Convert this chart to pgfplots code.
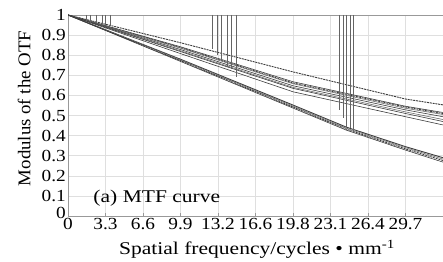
\documentclass[border=0pt]{standalone}
\usepackage{fontspec}
\setmainfont{Liberation Serif}[FakeStretch=1.2]
\newfontfamily\tickfont{Liberation Serif}[FakeStretch=1.14]
\newfontfamily\ylabfont{Liberation Serif}[FakeStretch=1.05]
\usepackage{pgfplots}
\pgfplotsset{compat=1.18}
\definecolor{crv}{RGB}{60,60,60}
\definecolor{crl}{RGB}{110,110,110}
\definecolor{vln}{RGB}{100,100,100}
\begin{document}
\fontsize{18}{21}\selectfont
\begin{tikzpicture}
\useasboundingbox (-68bp,-46bp) rectangle (375bp,216bp);
\begin{axis}[
  at={(0,0)}, anchor=south west,
  scale only axis, width=375bp, height=201bp,
  xmin=0, xmax=33, ymin=0, ymax=1,
  axis x line=box, axis y line=left,
  axis line style={-, draw=gray!80, line width=0.8bp},
  xtick={0,3.3,6.6,9.9,13.2,16.5,19.8,23.1,26.4,29.7},
  xticklabels={0,3.3,6.6,9.9,13.2,16.6,19.8,23.1,26.4,29.7},
  ytick={0,0.1,0.2,0.3,0.4,0.5,0.6,0.7,0.8,0.9,1},
  yticklabels={\raisebox{7bp}{0}\hspace{1bp},0.1,0.2,0.3,0.4,0.5,0.6,0.7,0.8,0.9,1},
  xtick pos=lower, tick align=inside,
  major tick length=3bp,
  ytick style={draw=none},
  xtick style={draw=gray!80, line width=0.6bp},
  grid=major, major grid style={draw=gray!25, line width=0.5bp},
  tick label style={font=\fontsize{17}{20}\tickfont},
  xticklabel style={inner sep=1bp, yshift=-1bp},
  yticklabel style={inner sep=2bp},
  xlabel={Spatial frequency/cycles \textbullet\ mm\textsuperscript{-1}},
  ylabel={Modulus of the OTF},
  xlabel style={font=\fontsize{18}{21}\selectfont, at={(axis description cs:0.504,-0.194)}, anchor=base},
  ylabel style={font=\fontsize{18}{21}\ylabfont, at={(axis description cs:-0.100,0.535)}, anchor=base, rotate=0},
  no markers,
  cycle list={{crv, solid}},
  every axis plot/.append style={line width=0.6bp},
]
% MTF curves
\addplot[crv, dash pattern=on 2bp off 0.8bp, line width=0.9bp] coordinates {(0,1) (9.9,0.862) (19.8,0.717) (29.7,0.582) (33,0.553)};
\addplot[crv] coordinates {(0,1) (9.9,0.842) (19.8,0.668) (29.7,0.546) (33,0.515)};
\addplot[crv, dash pattern=on 2bp off 0.8bp, line width=0.8bp] coordinates {(0,1) (9.9,0.838) (19.8,0.662) (29.7,0.542) (33,0.510)};
\addplot[crl] coordinates {(0,1) (9.9,0.835) (19.8,0.658) (29.7,0.536) (33,0.505)};
\addplot[crv] coordinates {(0,1) (9.9,0.828) (19.8,0.648) (29.7,0.528) (33,0.494)};
\addplot[crl] coordinates {(0,1) (9.9,0.822) (19.8,0.640) (29.7,0.518) (33,0.480)};
\addplot[crv] coordinates {(0,1) (9.9,0.818) (19.8,0.635) (29.7,0.510) (33,0.470)};
\addplot[crv] coordinates {(0,1) (9.9,0.808) (19.8,0.618) (29.7,0.494) (33,0.453)};
\addplot[crv, line width=0.9bp] coordinates {(0,1) (9.9,0.780) (19.8,0.552) (24.5,0.442) (29.7,0.345) (33,0.290)};
\addplot[crl] coordinates {(0,1) (9.9,0.777) (19.8,0.547) (24.5,0.437) (29.7,0.340) (33,0.283)};
\addplot[crv, dash pattern=on 2bp off 0.8bp, line width=0.8bp] coordinates {(0,1) (9.9,0.773) (19.8,0.542) (24.5,0.432) (29.7,0.334) (33,0.276)};
\addplot[crv] coordinates {(0,1) (9.9,0.769) (19.8,0.537) (24.5,0.427) (29.7,0.328) (33,0.268)};
% vertical marker lines
\addplot[vln, line width=0.5bp] coordinates {(1.6,1) (1.6,0.965)};
\addplot[vln, line width=0.5bp] coordinates {(2.0,1) (2.0,0.962)};
\addplot[vln, line width=0.5bp] coordinates {(2.5,1) (2.5,0.958)};
\addplot[vln, line width=0.5bp] coordinates {(3.0,1) (3.0,0.953)};
\addplot[vln, line width=0.5bp] coordinates {(3.3,1) (3.3,0.950)};
\addplot[vln, line width=0.5bp] coordinates {(3.7,1) (3.7,0.945)};
\addplot[vln, line width=0.5bp] coordinates {(12.7,1) (12.7,0.83)};
\addplot[vln, line width=0.5bp] coordinates {(13.1,1) (13.1,0.80)};
\addplot[vln, line width=0.5bp] coordinates {(13.5,1) (13.5,0.77)};
\addplot[vln, line width=0.5bp] coordinates {(14.0,1) (14.0,0.74)};
\addplot[vln, line width=0.5bp] coordinates {(14.4,1) (14.4,0.73)};
\addplot[vln, line width=0.5bp] coordinates {(14.8,1) (14.8,0.69)};
\addplot[vln, line width=0.5bp] coordinates {(23.9,1) (23.9,0.527)};
\addplot[vln, line width=0.5bp] coordinates {(24.2,1) (24.2,0.49)};
\addplot[vln, line width=0.5bp] coordinates {(24.5,1) (24.5,0.445)};
\addplot[vln, line width=0.5bp] coordinates {(24.8,1) (24.8,0.437)};
\addplot[vln, line width=0.5bp] coordinates {(25.1,1) (25.1,0.42)};
\node[anchor=base west, font=\fontsize{18}{21}\selectfont] at (axis cs:1.7,0.065) {(a) MTF curve};
\end{axis}
\end{tikzpicture}
\end{document}
